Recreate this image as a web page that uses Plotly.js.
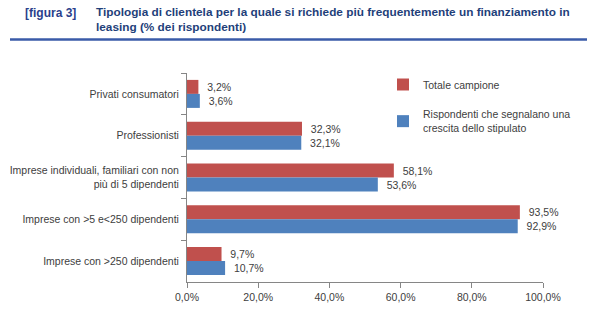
<!DOCTYPE html>
<html><head><meta charset="utf-8">
<script src="https://cdn.plot.ly/plotly-3.0.1.min.js"></script>
<style>html,body{margin:0;padding:0;background:#fff}#chart{width:600px;height:323px}</style>
</head><body><div id="chart"></div>
<script>
const categories = [
  "Privati consumatori",
  "Professionisti",
  "Imprese individuali, familiari con non<br>più di 5 dipendenti",
  "Imprese con >5 e<250 dipendenti",
  "Imprese con >250 dipendenti"
];
const seriesNames = ["Totale campione", "Rispondenti che segnalano una<br>crescita dello stipulato"];
const totaleCampione = [3.2, 32.3, 58.1, 93.5, 9.7];
const rispondentiCrescita = [3.6, 32.1, 53.6, 92.9, 10.7];
const xTicks = [0, 20, 40, 60, 80, 100];
const xTickLabels = ["0,0%", "20,0%", "40,0%", "60,0%", "80,0%", "100,0%"];

const L = 187, T = 73, W = 356, H = 209;
const px = v => (v - L) / W;
const py = v => 1 - (v - T) / H;
const txtFont = {family: "Liberation Sans, Arial, sans-serif", size: 10.5, color: "#404040"};
const traces = [
  {type: "bar", orientation: "h", name: seriesNames[0], y: categories, x: totaleCampione,
   marker: {color: "#C0504D"}, texttemplate: "\u00a0\u00a0%{x:.1f}%", textposition: "outside",
   textfont: txtFont, cliponaxis: false, legendgroup: "a"},
  {type: "bar", orientation: "h", name: seriesNames[1], y: categories, x: rispondentiCrescita,
   marker: {color: "#4F81BD"}, texttemplate: "\u00a0\u00a0%{x:.1f}%", textposition: "outside",
   textfont: txtFont, cliponaxis: false, legendgroup: "b"}
];
const layout = {
  width: 600, height: 323,
  margin: {l: L, r: 600 - L - W, t: T, b: 323 - T - H, autoexpand: false},
  separators: ",.",
  barmode: "group", bargap: 0.33, bargroupgap: 0,
  showlegend: true,
  legend: {x: px(383), y: py(70), xanchor: "left", yanchor: "top", traceorder: "grouped",
    tracegroupgap: 12, font: txtFont, bgcolor: "rgba(0,0,0,0)", itemwidth: 30},
  xaxis: {range: [0, 100], tickvals: xTicks, ticktext: xTickLabels, showgrid: false,
    zeroline: false, showline: true, linecolor: "#868686", ticks: "outside",
    ticklen: 5, tickcolor: "#868686", tickfont: txtFont},
  yaxis: {autorange: "reversed", showgrid: false, showline: true, linecolor: "#868686",
    ticks: "outside", tickson: "boundaries", ticklen: 5, tickcolor: "#868686",
    tickfont: txtFont, ticklabelstandoff: 5},
  annotations: [
    {xref: "paper", yref: "paper", x: px(23), y: py(13), xanchor: "left", yanchor: "middle",
     text: "<b>[figura 3]</b>", showarrow: false,
     font: {family: "Liberation Sans, Arial, sans-serif", size: 12, color: "#2B3F8C"}},
    {xref: "paper", yref: "paper", x: px(94), y: py(20), xanchor: "left", yanchor: "middle",
     align: "left",
     text: "<b>Tipologia di clientela per la quale si richiede più frequentemente un finanziamento in<br>leasing (% dei rispondenti)</b>",
     showarrow: false,
     font: {family: "Liberation Sans, Arial, sans-serif", size: 11.8, color: "#1F3F7A"}}
  ],
  shapes: [
    {type: "line", xref: "paper", yref: "paper", x0: px(10), x1: px(587),
     y0: py(39.5), y1: py(39.5), line: {color: "#3A5BA8", width: 2.5}}
  ],
  paper_bgcolor: "#fff", plot_bgcolor: "#fff"
};
Plotly.newPlot("chart", traces, layout, {displayModeBar: false, staticPlot: true});
</script></body></html>
